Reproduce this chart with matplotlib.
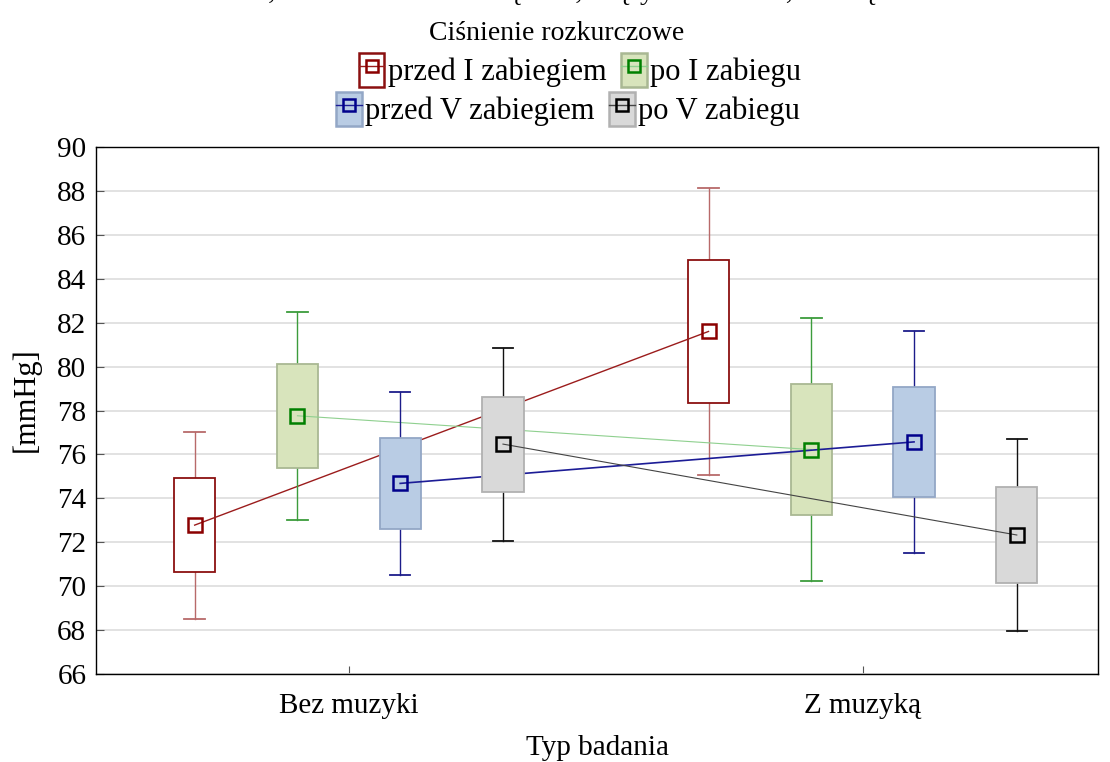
import matplotlib
matplotlib.use("Agg")
import matplotlib.pyplot as plt
from matplotlib.patches import Rectangle
from matplotlib.lines import Line2D
import numpy as np

plt.rcParams['font.family'] = ['Liberation Serif', 'DejaVu Serif']

categories = ["Bez muzyki", "Z muzyką"]
series = ["przed I zabiegiem", "po I zabiegu", "przed V zabiegiem", "po V zabiegu"]

# mean, box (mean ± SE), whiskers (mean ± 1.96 SE) per series, per category
means = {
    "przed I zabiegiem": [72.78, 81.60],
    "po I zabiegu":      [77.76, 76.22],
    "przed V zabiegiem": [74.68, 76.57],
    "po V zabiegu":      [76.47, 72.33],
}
box_lo = {
    "przed I zabiegiem": [70.63, 78.34],
    "po I zabiegu":      [75.37, 73.23],
    "przed V zabiegiem": [72.59, 74.05],
    "po V zabiegu":      [74.27, 70.13],
}
box_hi = {
    "przed I zabiegiem": [74.91, 84.87],
    "po I zabiegu":      [80.12, 79.19],
    "przed V zabiegiem": [76.73, 79.08],
    "po V zabiegu":      [78.63, 74.50],
}
wh_lo = {
    "przed I zabiegiem": [68.50, 75.08],
    "po I zabiegu":      [73.00, 70.25],
    "przed V zabiegiem": [70.50, 71.53],
    "po V zabiegu":      [72.07, 67.94],
}
wh_hi = {
    "przed I zabiegiem": [77.03, 88.15],
    "po I zabiegu":      [82.50, 82.20],
    "przed V zabiegiem": [78.84, 81.60],
    "po V zabiegu":      [80.85, 76.70],
}

styles = {
    "przed I zabiegiem": dict(face="white", edge="#8b1010", whisk="#b86a6a", mark="#8b0000", line="#9b1c1c", lw=1.0),
    "po I zabiegu":      dict(face="#d8e4bc", edge="#a9b893", whisk="#3c9c3c", mark="#008000", line="#8fd08f", lw=0.8),
    "przed V zabiegiem": dict(face="#b9cce4", edge="#93a7c6", whisk="#1c1c8a", mark="#00008b", line="#1c1c96", lw=1.2),
    "po V zabiegu":      dict(face="#d9d9d9", edge="#b1b1b1", whisk="#111111", mark="#000000", line="#444444", lw=0.8),
}
offsets = [-0.3, -0.1, 0.1, 0.3]
bw = 0.08
cap = 0.04

fig = plt.figure(figsize=(11.10, 7.62), dpi=100)
ax = fig.add_axes([96/1110, 88/762, (1098-96)/1110, (674-147)/762])

x = np.arange(len(categories))
for i, s in enumerate(series):
    st = styles[s]
    z = 2 + 2 * i
    xs = x + offsets[i]
    for j in range(len(categories)):
        xc = xs[j]
        ax.plot([xc, xc], [wh_lo[s][j], box_lo[s][j]], color=st["whisk"], lw=1.0, zorder=z)
        ax.plot([xc, xc], [box_hi[s][j], wh_hi[s][j]], color=st["whisk"], lw=1.0, zorder=z)
        ax.plot([xc - cap/2, xc + cap/2], [wh_lo[s][j]] * 2, color=st["whisk"], lw=1.3, zorder=z)
        ax.plot([xc - cap/2, xc + cap/2], [wh_hi[s][j]] * 2, color=st["whisk"], lw=1.3, zorder=z)
        ax.add_patch(Rectangle((xc - bw/2, box_lo[s][j]), bw, box_hi[s][j] - box_lo[s][j],
                               facecolor=st["face"], edgecolor=st["edge"], lw=1.3, zorder=z))
    ax.plot(xs, means[s], color=st["line"], lw=st["lw"], zorder=z + 1)
    ax.plot(xs, means[s], ls="none", marker="s", markersize=10, markerfacecolor="none",
            markeredgecolor=st["mark"], markeredgewidth=1.8, zorder=20)

ax.set_xlim(-0.492, 1.458)
ax.set_ylim(66, 90)
ax.set_yticks(np.arange(66, 91, 2))
ax.set_xticks(x)
ax.set_xticklabels(categories)
ax.yaxis.grid(True, color="#dddddd", lw=1.2, zorder=0)
ax.set_axisbelow(True)
ax.tick_params(axis="both", direction="in", labelsize=21, length=6, color="#555555")
ax.tick_params(axis="x", pad=14)
ax.tick_params(axis="y", pad=7)
for sp in ax.spines.values():
    sp.set_color("black")
    sp.set_linewidth(1.0)
ax.set_ylabel("[mmHg]", fontsize=22)
ax.yaxis.set_label_coords(-(96-26)/1002, 0.52)
ax.yaxis.label.set_va("center")
ax.set_xlabel("Typ badania", fontsize=21)
ax.xaxis.set_label_coords(0.5, -(748-674)/527)
ax.xaxis.label.set_va("center")

# partially visible first title line (cut at the top of the image)
fig.text(0.50, 1.0 + 1/762, "Średnia; Ramka: Średnia±Błąd std; Wąsy: Średnia±1,96*Błąd std",
         ha="center", va="baseline", fontsize=20.5)
fig.text(557/1110, 1 - 33/762, "Ciśnienie rozkurczowe", ha="center", va="center", fontsize=20)

def handle(s):
    st = styles[s]
    p = Rectangle((0, 0), 1, 1, facecolor=st["face"], edgecolor=st["edge"], lw=1.8)
    l = Line2D([], [], color=st["line"], lw=1.0, marker="s", markersize=9,
               markerfacecolor="none", markeredgecolor=st["mark"], markeredgewidth=1.8)
    return (p, l)

for row, (ycen, xcen) in enumerate([(1 - 70/762, 580/1110), (1 - 109/762, 568/1110)]):
    names = series[2*row:2*row + 2]
    leg = fig.legend([handle(n) for n in names], names, loc="center", bbox_to_anchor=(xcen, ycen),
                     ncol=2, frameon=False, fontsize=22, handlelength=0.85, handleheight=1.35,
                     handletextpad=0.1, columnspacing=0.5, borderpad=0.1)

fig.savefig("out.png", dpi=100)
